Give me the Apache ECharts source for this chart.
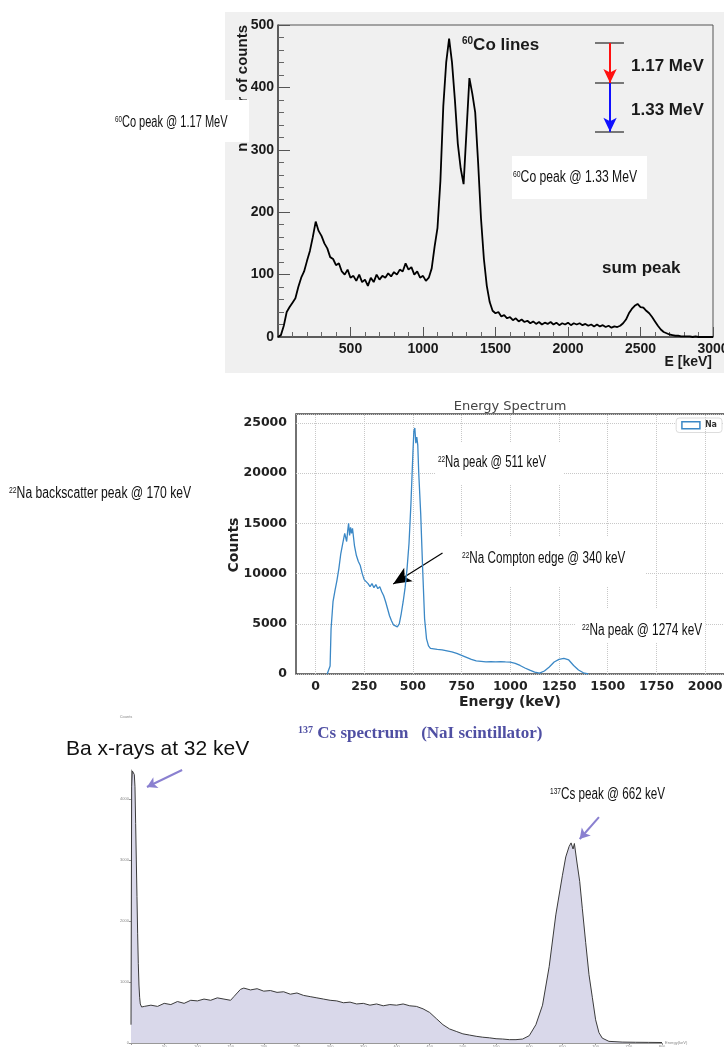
<!DOCTYPE html>
<html><head><meta charset="utf-8">
<script src="https://cdn.jsdelivr.net/npm/echarts@6/dist/echarts.min.js"></script>
<style>html,body{margin:0;padding:0;background:#fff}#c{width:724px;height:1047px}</style>
</head><body><div id="c"></div>
<script>
// ---------- 60Co spectrum (counts per 20 keV bin, starting at 0 keV) ----------
const coBinWidth = 20;
const coCounts = [
  0,3,18,40,48,55,62,80,95,105,
  122,138,160,185,170,162,150,142,128,125,
  115,118,105,100,108,95,98,90,100,88,
  92,82,95,88,100,92,98,95,102,97,
  104,100,108,105,118,108,112,100,105,95,
  98,90,95,110,145,175,250,370,440,478,
  440,380,310,270,245,330,415,390,360,280,
  190,125,82,56,42,38,40,33,35,30,
  32,27,30,25,28,24,26,22,25,21,
  24,20,23,21,24,20,23,19,22,20,
  23,19,22,20,22,19,21,18,20,17,
  20,17,19,16,18,15,17,16,18,22,
  28,38,45,50,53,48,47,42,38,32,
  25,18,12,8,6,4,3,2,2,1,
  1,1,1,0,1,0,0,0,0,0,
  0
];
const coXTicks = [0, 500, 1000, 1500, 2000, 2500, 3000];
const coYTicks = [0, 100, 200, 300, 400, 500];

// ---------- 22Na spectrum ----------
const naEnergy = [60,70,75,80,90,100,110,120,130,140,150,160,165,170,175,180,185,190,200,210,220,230,240,250,260,270,280,290,300,310,320,330,340,350,360,370,380,390,400,410,420,430,440,450,460,470,480,490,500,505,510,515,520,525,530,540,550,560,570,580,590,600,625,650,675,700,725,750,775,800,825,850,875,900,925,950,975,1000,1025,1050,1075,1100,1125,1150,1175,1200,1225,1250,1275,1300,1325,1350,1375,1400];
const naCounts = [0,0,800,4500,7200,8300,9300,10500,12000,13000,14000,13200,14200,15000,13800,14600,14000,14500,12800,11800,11200,10800,10000,9400,9200,9000,8700,9000,8600,8900,8500,8700,8200,7800,7200,6500,5800,5300,4900,4800,4700,5000,6000,7200,8600,10500,13000,17000,22000,24200,24500,23000,23600,22800,20000,16000,10500,5500,3500,2800,2550,2500,2450,2400,2300,2200,2050,1850,1650,1450,1300,1250,1200,1220,1200,1230,1200,1180,1050,850,600,380,180,80,300,700,1200,1450,1550,1400,850,400,120,0];
const naXTicks = [0,250,500,750,1000,1250,1500,1750,2000];
const naYTicks = [0,5000,10000,15000,20000,25000];

// ---------- 137Cs spectrum ----------
const csEnergy = [0,1,2,3,4,5,6,7,8,9,10,11,12,13,14,16,20,30,40,50,60,70,80,90,100,110,120,130,140,150,155,160,165,170,180,190,200,210,220,230,240,250,260,270,280,290,300,310,320,330,340,350,360,370,380,390,400,410,420,430,440,450,460,470,480,490,500,510,520,530,540,550,560,570,580,590,600,610,620,630,640,650,655,660,663,666,668,672,676,680,685,690,695,700,705,710,720,740,760,780,800];
const csCounts = [300,4200,4460,4480,4450,4400,4200,3600,3000,2400,1800,1300,950,750,640,590,600,620,600,650,630,680,650,700,690,720,700,740,720,700,760,820,880,900,870,890,850,860,830,840,800,820,780,760,740,720,700,690,660,670,640,650,620,640,610,630,620,640,610,600,560,500,400,300,230,190,150,130,110,95,85,70,65,55,55,65,120,300,620,1250,2100,2750,3050,3220,3280,3180,3270,2950,2650,2200,1650,1120,750,380,170,80,27,15,12,10,8];

// ---------- annotation texts ----------
const coAnn1 = '{s|60}Co peak @ 1.17 MeV';
const coAnn2 = '{s|60}Co peak @ 1.33 MeV';
const naAnn0 = '{s|22}Na backscatter peak @ 170 keV';
const naAnn1 = '{s|22}Na peak @ 511 keV';
const naAnn2 = '{s|22}Na Compton edge @ 340 keV';
const naAnn3 = '{s|22}Na peak @ 1274 keV';
const csAnn1 = '{s|137}Cs peak @ 662 keV';

const coData = coCounts.map((c, i) => [i * coBinWidth, c]);
const naData = naEnergy.map((e, i) => [e, naCounts[i]]);
const csData = csEnergy.map((e, i) => [e, csCounts[i]]);

const annFont = '"Liberation Sans", Arial, sans-serif';
const arial = '"Liberation Sans", Arial, sans-serif';
const dejavu = '"DejaVu Sans", sans-serif';
const supStyle = {fontSize: 9, verticalAlign: 'top', fontFamily: annFont, fill: '#111'};

function annText(x, y, txt, sx) {
  return {type: 'text', x: x, y: y, z: 60, silent: true, scaleX: sx, scaleY: 1,
    style: {text: txt, font: '16px ' + annFont, fill: '#111',
      align: 'left', verticalAlign: 'middle', rich: {s: supStyle}}};
}
function whiteRect(x, y, w, h) {
  return {type: 'rect', z: 55, silent: true, shape: {x: x, y: y, width: w, height: h}, style: {fill: '#fff'}};
}
function arrowPair(p1, p2, color, width, size) {
  return [{coord: p1, symbol: 'none', lineStyle: {color: color, width: width, type: 'solid'}},
          {coord: p2, symbol: 'arrow', symbolSize: size}];
}
function plainPair(p1, p2, color, width) {
  return [{coord: p1, symbol: 'none', lineStyle: {color: color, width: width, type: 'solid'}},
          {coord: p2, symbol: 'none'}];
}

const chart = echarts.init(document.getElementById('c'));
chart.setOption({
  animation: false,
  backgroundColor: '#fff',
  grid: [
    {left: 278, top: 25, width: 435, height: 312, show: true, borderColor: '#555', borderWidth: 1, backgroundColor: 'transparent', containLabel: false, outerBoundsMode: 'none'},
    {left: 296, top: 414, width: 430, height: 260, show: true, borderColor: '#444', borderWidth: 1.5, backgroundColor: '#fff', containLabel: false, outerBoundsMode: 'none'},
    {left: 131, top: 770, width: 531, height: 273, show: false, containLabel: false, outerBoundsMode: 'none'}
  ],
  legend: {
    data: [{name: 'Na', icon: 'rect', itemStyle: {color: '#fff', borderColor: '#3b88c6', borderWidth: 1.5}}],
    right: 2, top: 418, itemWidth: 18, itemHeight: 7, itemGap: 4,
    backgroundColor: '#fff', borderColor: '#ddd', borderWidth: 1, borderRadius: 3, padding: [3, 5],
    textStyle: {fontSize: 8, fontWeight: 'bold', color: '#333', fontFamily: dejavu}
  },
  xAxis: [
    {gridIndex: 0, type: 'value', min: coXTicks[0], max: coXTicks[coXTicks.length - 1], interval: 500,
      axisLine: {lineStyle: {color: '#444', width: 1.5}},
      axisTick: {inside: true, length: 10, lineStyle: {color: '#555'}},
      minorTick: {show: true, splitNumber: 5, length: 5, lineStyle: {color: '#666'}},
      splitLine: {show: false},
      axisLabel: {formatter: v => (v === 0 ? '' : String(v)), fontFamily: arial, fontWeight: 'bold', fontSize: 14, color: '#1a1a1a', margin: 5}},
    {gridIndex: 1, type: 'value', min: -100, max: 2107, interval: 50,
      axisLine: {show: false}, axisTick: {show: false}, splitLine: {show: false},
      axisLabel: {formatter: v => (naXTicks.indexOf(v) >= 0 ? String(v) : ''), fontFamily: dejavu, fontWeight: 'bold', fontSize: 12.5, color: '#222', margin: 6, showMaxLabel: true}},
    {gridIndex: 2, type: 'value', min: 0, max: 800, interval: 50,
      axisLine: {lineStyle: {color: '#999', width: 1}},
      axisTick: {length: 2, lineStyle: {color: '#999'}},
      splitLine: {show: false},
      axisLabel: {fontSize: 4, color: '#888', margin: 2, formatter: v => (v === 0 ? '' : String(v))},
      name: 'Energy(keV)', nameLocation: 'end', nameGap: 3, nameTextStyle: {fontSize: 4, color: '#888'}}
  ],
  yAxis: [
    {gridIndex: 0, type: 'value', min: coYTicks[0], max: coYTicks[coYTicks.length - 1], interval: 100,
      axisLine: {lineStyle: {color: '#444', width: 1.5}},
      axisTick: {inside: true, length: 12, lineStyle: {color: '#555'}},
      minorTick: {show: true, splitNumber: 5, length: 6, lineStyle: {color: '#666'}},
      splitLine: {show: false},
      axisLabel: {fontFamily: arial, fontWeight: 'bold', fontSize: 14, color: '#1a1a1a', margin: 4}},
    {gridIndex: 1, type: 'value', min: 0, max: 25900, interval: 5000,
      axisLine: {show: false}, axisTick: {show: false},
      splitLine: {show: true, lineStyle: {color: '#c8c8c8', type: 'dotted', width: 1}},
      axisLabel: {formatter: v => (naYTicks.indexOf(v) >= 0 ? String(v) : ''), showMaxLabel: false, fontFamily: dejavu, fontWeight: 'bold', fontSize: 12.5, color: '#222', margin: 9}},
    {gridIndex: 2, type: 'value', min: 0, max: 4475, interval: 1000,
      axisLine: {show: true, lineStyle: {color: '#999', width: 1}},
      axisTick: {show: true, length: 2, lineStyle: {color: '#999'}},
      splitLine: {show: false},
      axisLabel: {fontSize: 4, color: '#888', margin: 2, showMaxLabel: false, formatter: v => (v % 1000 === 0 ? String(v) : '')}}
  ],
  series: [
    {type: 'line', name: 'Co', xAxisIndex: 0, yAxisIndex: 0, data: coData, showSymbol: false, symbol: 'none',
      lineStyle: {color: '#000', width: 1.8}, z: 5,
      markLine: {silent: true, symbol: ['none', 'none'], label: {show: false}, emphasis: {disabled: true}, animation: false,
        data: [
          plainPair([2186, 471], [2386, 471], '#777', 2),
          plainPair([2186, 407], [2386, 407], '#777', 2),
          plainPair([2186, 329], [2386, 329], '#777', 2),
          arrowPair([2290, 471], [2290, 407], '#ff1010', 2, [10, 14]),
          arrowPair([2290, 407], [2290, 329], '#1010ff', 2, [10, 14])
        ]}},
    {type: 'line', name: 'Na', xAxisIndex: 1, yAxisIndex: 1, data: naData, showSymbol: false, symbol: 'none',
      lineStyle: {color: '#3b88c6', width: 1.3}, z: 5,
      markLine: {silent: true, symbol: ['none', 'none'], label: {show: false}, emphasis: {disabled: true}, animation: false,
        data: naXTicks.map(v => ({xAxis: v, lineStyle: {color: '#c8c8c8', type: 'dotted', width: 1}}))
          .concat([arrowPair([652, 12050], [399, 8960], '#000', 1.2, [12, 18])])}},
    {type: 'line', name: 'Cs', xAxisIndex: 2, yAxisIndex: 2, data: csData, showSymbol: false, symbol: 'none',
      lineStyle: {color: '#3a3a3a', width: 1}, areaStyle: {color: '#d9d8ea', opacity: 1}, z: 5,
      markLine: {silent: true, symbol: ['none', 'none'], label: {show: false}, emphasis: {disabled: true}, animation: false,
        data: [
          arrowPair([77, 4475], [24, 4196], '#8a80d0', 2, [9, 10]),
          arrowPair([705, 3704], [676, 3344], '#8a80d0', 2, [9, 10])
        ]}}
  ],
  graphic: [
    {type: 'rect', z: -100, silent: true, shape: {x: 225, y: 12, width: 499, height: 361}, style: {fill: '#f0f0f0'}},
    {type: 'text', x: 243, y: 25, rotation: Math.PI / 2, silent: true, z: 10,
      style: {text: 'number of counts', font: 'bold 15px ' + arial, fill: '#1a1a1a', align: 'right', verticalAlign: 'middle'}},
    {type: 'text', x: 712, y: 362, silent: true, z: 10,
      style: {text: 'E [keV]', font: 'bold 14px ' + arial, fill: '#1a1a1a', align: 'right', verticalAlign: 'middle'}},
    {type: 'text', x: 462, y: 45, silent: true, z: 10,
      style: {text: '{s|60}Co lines', font: 'bold 17px ' + arial, fill: '#1a1a1a', align: 'left', verticalAlign: 'middle',
        rich: {s: {fontSize: 10, fontWeight: 'bold', verticalAlign: 'top', fontFamily: arial}}}},
    {type: 'text', x: 631, y: 66, silent: true, z: 10,
      style: {text: '1.17 MeV', font: 'bold 17px ' + arial, fill: '#1a1a1a', align: 'left', verticalAlign: 'middle'}},
    {type: 'text', x: 631, y: 110, silent: true, z: 10,
      style: {text: '1.33 MeV', font: 'bold 17px ' + arial, fill: '#1a1a1a', align: 'left', verticalAlign: 'middle'}},
    {type: 'text', x: 602, y: 268, silent: true, z: 10,
      style: {text: 'sum peak', font: 'bold 17px ' + arial, fill: '#1a1a1a', align: 'left', verticalAlign: 'middle'}},
    whiteRect(95, 100, 154, 42),
    annText(115, 123, coAnn1, 0.69),
    whiteRect(512, 156, 135, 43),
    annText(513, 178, coAnn2, 0.76),
    {type: 'text', x: 510, y: 407, silent: true, z: 10,
      style: {text: 'Energy Spectrum', font: '13px ' + dejavu, fill: '#444', align: 'center', verticalAlign: 'middle'}},
    {type: 'text', x: 510, y: 702, silent: true, z: 10,
      style: {text: 'Energy (keV)', font: 'bold 14px ' + dejavu, fill: '#222', align: 'center', verticalAlign: 'middle'}},
    {type: 'text', x: 234, y: 545, rotation: Math.PI / 2, silent: true, z: 10,
      style: {text: 'Counts', font: 'bold 14px ' + dejavu, fill: '#222', align: 'center', verticalAlign: 'middle'}},
    annText(9, 494, naAnn0, 0.76),
    whiteRect(436, 442, 127, 43),
    annText(438, 463, naAnn1, 0.71),
    whiteRect(450, 537, 195, 50),
    annText(462, 559, naAnn2, 0.73),
    whiteRect(575, 608, 130, 35),
    annText(582, 631, naAnn3, 0.74),
    {type: 'text', x: 298, y: 734, silent: true, z: 10,
      style: {text: '{s|137} Cs spectrum   (NaI scintillator)', font: 'bold 17px "Liberation Serif", serif', fill: '#4f4fa3', align: 'left', verticalAlign: 'middle',
        rich: {s: {fontSize: 10, fontWeight: 'bold', verticalAlign: 'top', fontFamily: '"Liberation Serif", serif', fill: '#4f4fa3'}}}},
    {type: 'text', x: 66, y: 749, silent: true, z: 10,
      style: {text: 'Ba x-rays at 32 keV', font: '21px ' + arial, fill: '#111', align: 'left', verticalAlign: 'middle'}},
    {type: 'text', x: 126, y: 717, silent: true, z: 10,
      style: {text: 'Counts', font: '4px ' + arial, fill: '#888', align: 'center', verticalAlign: 'middle'}},
    annText(550, 795, csAnn1, 0.73)
  ]
});
</script></body></html>
